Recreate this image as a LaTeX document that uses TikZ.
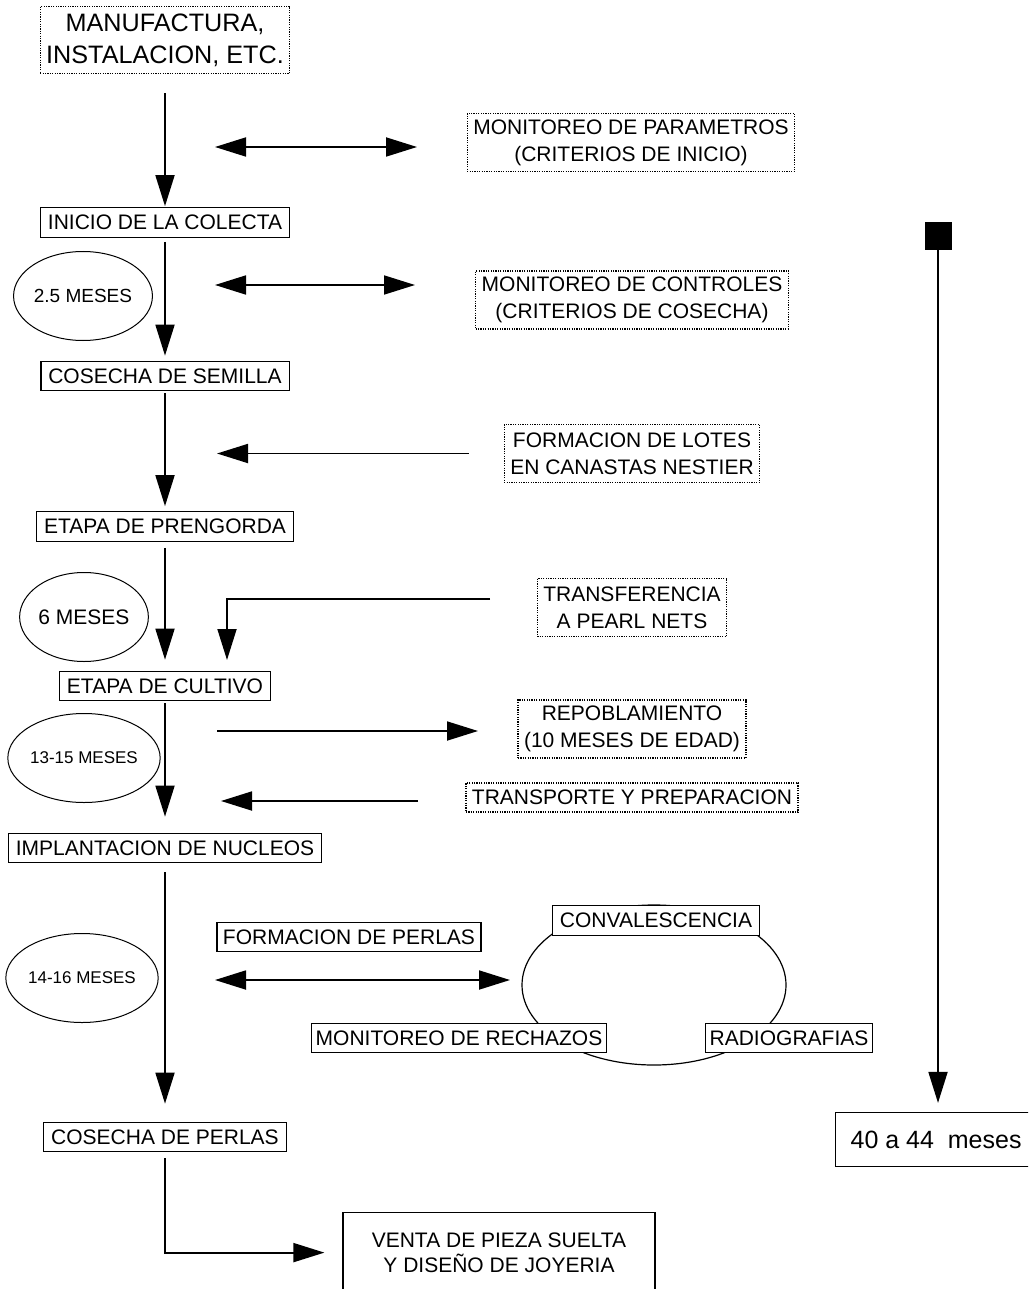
\documentclass[tikz,border=0pt]{standalone}
\usepackage{fontspec}
\setmainfont{Liberation Sans}
\usetikzlibrary{positioning,shapes.geometric,arrows.meta}

\begin{document}
\begin{tikzpicture}[x=0.5pt, y=-0.5pt,
		etapa/.style={draw, line width=0.6pt, fill=white, inner xsep=3.7pt, inner ysep=0pt,
			minimum height=14.75pt, font=\fontsize{10.5}{13}\selectfont},
		nota/.style={draw, line width=0.6pt, dash pattern=on 0.6pt off 0.6pt, align=center,
			inner xsep=3pt, inner ysep=0pt, minimum height=29pt, font=\fontsize{10.5}{13.5}\selectfont},
		lapso/.style={ellipse, draw, line width=0.5pt, inner sep=0pt,
			minimum width=62.5pt, minimum height=44.5pt, font=\fontsize{8.5}{10}\selectfont},
		flecha/.style={-{Triangle[length=15.5pt, width=9.5pt]}, line width=0.9pt},
		ambas/.style={{Triangle[length=15.5pt, width=9.5pt]}-{Triangle[length=15.5pt, width=9.5pt]}, line width=0.9pt}
		]
		\useasboundingbox (0,0) rectangle (1028,1289);
		\clip (0,0) rectangle (1028,1289);

		% columna principal
		\node[nota, minimum width=123.5pt, minimum height=33.5pt, font=\fontsize{12.6}{16}\selectfont] (manuf) at (165,40) {MANUFACTURA,\\INSTALACION, ETC.};
		\node[etapa] (inicio) at (165,222.5) {INICIO DE LA COLECTA};
		\node[etapa] (semilla) at (165,376) {COSECHA DE SEMILLA};
		\node[etapa] (prengorda) at (165,526.5) {ETAPA DE PRENGORDA};
		\node[etapa] (cultivo) at (165,686) {ETAPA DE CULTIVO};
		\node[etapa] (implante) at (165,848) {IMPLANTACION DE NUCLEOS};
		\node[etapa] (perlas) at (165,1137) {COSECHA DE PERLAS};
		\node[etapa, minimum width=156pt, minimum height=40pt, anchor=north, align=center,
			font=\fontsize{10.5}{12.5}\selectfont] (venta) at (499,1212) {VENTA DE PIEZA SUELTA\\Y DISEÑO DE JOYERIA};

		\draw[flecha, shorten <=9.5pt, shorten >=0.5pt] (manuf) -- (inicio);
		\draw[flecha, shorten <=2pt, shorten >=2.5pt] (inicio) -- (semilla);
		\draw[flecha, shorten <=1pt, shorten >=2.5pt] (semilla) -- (prengorda);
		\draw[flecha, shorten <=3pt, shorten >=5.5pt] (prengorda) -- (cultivo);
		\draw[flecha, shorten <=1pt, shorten >=8pt] (cultivo) -- (implante);
		\draw[flecha, shorten <=4.5pt, shorten >=9pt] (implante) -- (perlas);
		\draw[flecha, shorten <=3pt, shorten >=9pt] (perlas.south) |- (venta.west);

		% tiempos
		\node[lapso, font=\fontsize{9.5}{11}\selectfont] (t1) at (83,296) {2.5 MESES};
		\node[lapso, font=\fontsize{10.5}{12}\selectfont] (t2) at (84,617) {6 MESES};
		\node[lapso] (t3) at (84,758) {13-15 MESES};
		\node[lapso] (t4) at (82,978) {14-16 MESES};

		% actividades laterales
		\node[nota] (parametros) at (631,142.5) {MONITOREO DE PARAMETROS\\(CRITERIOS DE INICIO)};
		\node[nota] (controles) at (632,300) {MONITOREO DE CONTROLES\\(CRITERIOS DE COSECHA)};
		\node[nota] (lotes) at (632,453.5) {FORMACION DE LOTES\\EN CANASTAS NESTIER};
		\node[nota] (transfer) at (632,607.5) {TRANSFERENCIA\\A PEARL NETS};
		\node[nota] (repobla) at (632,729) {REPOBLAMIENTO\\(10 MESES DE EDAD)};
		\node[nota, minimum height=14.5pt] (transporte) at (632,797.5) {TRANSPORTE Y PREPARACION};

		\coordinate (a1) at (215,147);
		\coordinate (a2) at (417,147);
		\coordinate (b1) at (215,285);
		\coordinate (b2) at (415,285);
		\coordinate (c1) at (217,453.5);
		\coordinate (d1) at (490,599);
		\coordinate (d2) at (227,660);
		\coordinate (e1) at (217,731);
		\coordinate (e2) at (478,731);
		\coordinate (f1) at (418,801);
		\coordinate (f2) at (221,801);
		\draw[ambas] (a1) -- (a2);
		\draw[ambas] (b1) -- (b2);
		\draw[flecha, shorten <=17.5pt] (lotes.west) -- (c1);
		\draw[flecha] (d1) -| (d2);
		\draw[flecha] (e1) -- (e2);
		\draw[flecha] (f1) -- (f2);

		% ciclo de formacion de perlas
		\node[ellipse, draw, line width=0.6pt, minimum width=132pt, minimum height=80pt] (ciclo) at (654,985) {};
		\node[etapa, inner xsep=3pt] (formacion) at (349,937) {FORMACION DE PERLAS};
		\node[etapa] (convalece) at (656,920.5) {CONVALESCENCIA};
		\node[etapa, inner xsep=2pt] (rechazos) at (459,1038) {MONITOREO DE RECHAZOS};
		\node[etapa, inner xsep=2pt] (radio) at (789,1038) {RADIOGRAFIAS};
		\coordinate (g1) at (215,980);
		\coordinate (g2) at (510,980);
		\draw[ambas] (g1) -- (g2);

		% duracion total
		\node[fill, draw, line width=0.5pt, inner sep=0pt, minimum size=13pt] (cuadro) at (938,236) {};
		\node[etapa, anchor=west, inner xsep=7.5pt, minimum height=27pt, font=\fontsize{12.5}{14}\selectfont] (meses) at (835,1139.5) {40 a 44\ \ meses};
		\draw[flecha, shorten >=4.5pt] (cuadro.south) -- (cuadro.south |- meses.north);
\end{tikzpicture}
\end{document}
